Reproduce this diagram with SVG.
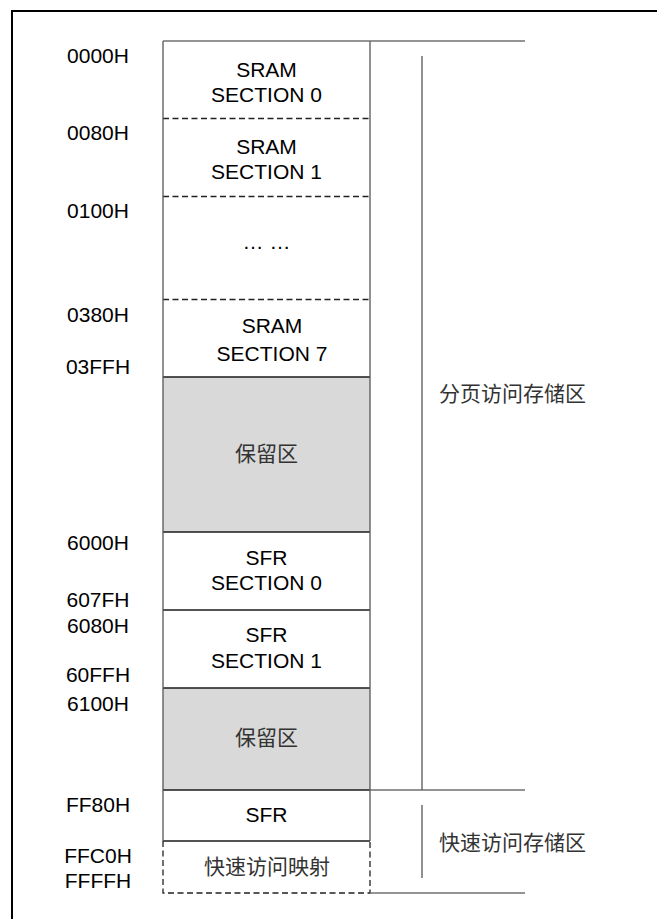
<svg xmlns="http://www.w3.org/2000/svg" width="657" height="919" viewBox="0 0 657 919">
<style>
.lbl{font-family:"Liberation Sans",Arial,sans-serif;font-size:21px;fill:#000;text-anchor:middle}
.txt{font-family:"Liberation Sans",Arial,sans-serif;font-size:21px;fill:#000;text-anchor:middle}
.cjk{font-family:"Noto Sans CJK SC","Liberation Sans",sans-serif;font-size:21px;fill:#333}
.mid{text-anchor:middle}
.sep{stroke:#1a1a1a;stroke-width:1.5;fill:none}
.dash{stroke:#222;stroke-width:1.3;stroke-dasharray:6 3.5;fill:none}
.edge{stroke:#555;stroke-width:1.3;fill:none}
.ext{stroke:#707070;stroke-width:1.5;fill:none}
.res{fill:#d9d9d9}
</style>
<rect x="0" y="0" width="657" height="919" fill="#fff"/>
<path d="M12 919 V11 H657" stroke="#000" stroke-width="2" fill="none"/>

<g id="addresses">
<text class="lbl" x="98" y="63">0000H</text>
<text class="lbl" x="98" y="140">0080H</text>
<text class="lbl" x="98" y="218">0100H</text>
<text class="lbl" x="98" y="321.5">0380H</text>
<text class="lbl" x="98" y="374">03FFH</text>
<text class="lbl" x="98" y="550">6000H</text>
<text class="lbl" x="98" y="606.5">607FH</text>
<text class="lbl" x="98" y="633">6080H</text>
<text class="lbl" x="98" y="681.5">60FFH</text>
<text class="lbl" x="98" y="711">6100H</text>
<text class="lbl" x="98" y="811.5">FF80H</text>
<text class="lbl" x="98" y="863">FFC0H</text>
<text class="lbl" x="98" y="888">FFFFH</text>
</g>

<g id="sram0">
<text class="txt" x="266.5" y="76.5">SRAM</text>
<text class="txt" x="266.5" y="101.5">SECTION 0</text>
</g>
<g id="sram1">
<line class="dash" x1="163" y1="118.5" x2="370" y2="118.5"/>
<text class="txt" x="266.5" y="153.5">SRAM</text>
<text class="txt" x="266.5" y="179">SECTION 1</text>
</g>
<g id="sram-more">
<line class="dash" x1="163" y1="196.5" x2="370" y2="196.5"/>
<text class="txt" x="266.5" y="249">… …</text>
</g>
<g id="sram7">
<line class="dash" x1="163" y1="299.5" x2="370" y2="299.5"/>
<text class="txt" x="272" y="333">SRAM</text>
<text class="txt" x="272" y="361">SECTION 7</text>
</g>
<g id="reserved1">
<rect class="res" x="163" y="377" width="207" height="155"/>
<line class="sep" x1="163" y1="377" x2="370" y2="377"/>
<text class="cjk mid" x="266.5" y="461">保留区</text>
</g>
<g id="sfr0">
<line class="sep" x1="163" y1="532" x2="370" y2="532"/>
<text class="txt" x="266.5" y="565">SFR</text>
<text class="txt" x="266.5" y="590">SECTION 0</text>
</g>
<g id="sfr1">
<line class="sep" x1="163" y1="610" x2="370" y2="610"/>
<text class="txt" x="266.5" y="641.5">SFR</text>
<text class="txt" x="266.5" y="668">SECTION 1</text>
</g>
<g id="reserved2">
<rect class="res" x="163" y="688" width="207" height="102"/>
<line class="sep" x1="163" y1="688" x2="370" y2="688"/>
<text class="cjk mid" x="266.5" y="745">保留区</text>
</g>
<g id="sfr">
<line class="sep" x1="163" y1="790" x2="370" y2="790"/>
<text class="txt" x="266.5" y="821.5">SFR</text>
</g>
<g id="fast-map">
<line class="sep" x1="163" y1="841" x2="370" y2="841"/>
<path class="dash" d="M163 841 V893 H370 V841" stroke="#666"/>
<text class="cjk mid" x="267" y="874">快速访问映射</text>
</g>

<g id="column-edges">
<line class="edge" x1="163" y1="41" x2="163" y2="841"/>
<line class="edge" x1="370" y1="41" x2="370" y2="841"/>
</g>

<g id="connectors">
<line class="ext" x1="163" y1="41" x2="525" y2="41"/>
<line class="ext" x1="370" y1="790" x2="525" y2="790"/>
<line class="ext" x1="370" y1="893" x2="525" y2="893"/>
<line class="edge" x1="422" y1="56" x2="422" y2="790"/>
<line class="edge" x1="422" y1="805" x2="422" y2="878"/>
</g>

<g id="paged-area">
<text class="cjk" x="439" y="401">分页访问存储区</text>
</g>
<g id="fast-area">
<text class="cjk" x="439" y="850">快速访问存储区</text>
</g>
</svg>
